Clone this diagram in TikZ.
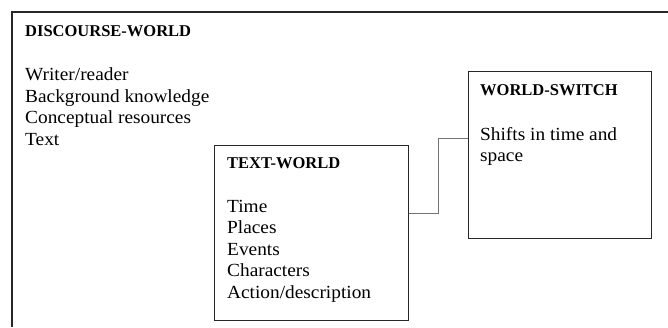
\documentclass[tikz,border=0pt]{standalone}
\usepackage{fontspec}
\setmainfont{Liberation Serif}
\newfontfamily\bodyfont[FakeStretch=1.045]{Liberation Serif}
\begin{document}
\begin{tikzpicture}[x=1pt,y=-1pt,
  frame/.style={draw=black!85,line width=1.3pt},
  boxnode/.style={draw=black!85,line width=1.2pt,inner sep=0pt,anchor=north west},
  head/.style={anchor=base west,inner sep=0pt,font=\fontsize{16.5}{19}\selectfont\bfseries},
  body/.style={anchor=base west,inner sep=0pt,font=\bodyfont\fontsize{18.5}{21.5}\selectfont},
  conn/.style={draw=black!55,line width=0.9pt}]
\useasboundingbox (0,0) rectangle (668,327);
% outer discourse-world frame (cropped at right and bottom)
\coordinate (dwbl) at (12,327);
\coordinate (dwtl) at (12,12);
\coordinate (dwtr) at (668,12);
\draw[frame] (dwbl) -- (dwtl) -- (dwtr);
\node[head] (dwh) at (25,36) {DISCOURSE-WORLD};
\node[body] (dw1) at (25,80.5) {Writer/reader};
\node[body] (dw2) at (25,102) {Background knowledge};
\node[body] (dw3) at (25,123.5) {Conceptual resources};
\node[body] (dw4) at (25,145) {Text};
% text-world
\node[boxnode,minimum width=194pt,minimum height=175pt] (tw) at (214,145) {};
\node[head] (twh) at (227,168) {TEXT-WORLD};
\node[body] (tw1) at (227,212) {Time};
\node[body] (tw2) at (227,233.5) {Places};
\node[body] (tw3) at (227,255) {Events};
\node[body] (tw4) at (227,276.5) {Characters};
\node[body] (tw5) at (227,298) {Action/description};
% world-switch
\node[boxnode,minimum width=183pt,minimum height=167pt] (ws) at (468,71) {};
\node[head] (wsh) at (480,95) {WORLD-SWITCH};
\node[body] (ws1) at (480,140) {Shifts in time and};
\node[body] (ws2) at (480,161.5) {space};
% connector
\coordinate (bend) at (438,138);
\draw[conn] (tw.north east |- 0,213) -| (bend) -- (ws.west |- bend);
\end{tikzpicture}
\end{document}
